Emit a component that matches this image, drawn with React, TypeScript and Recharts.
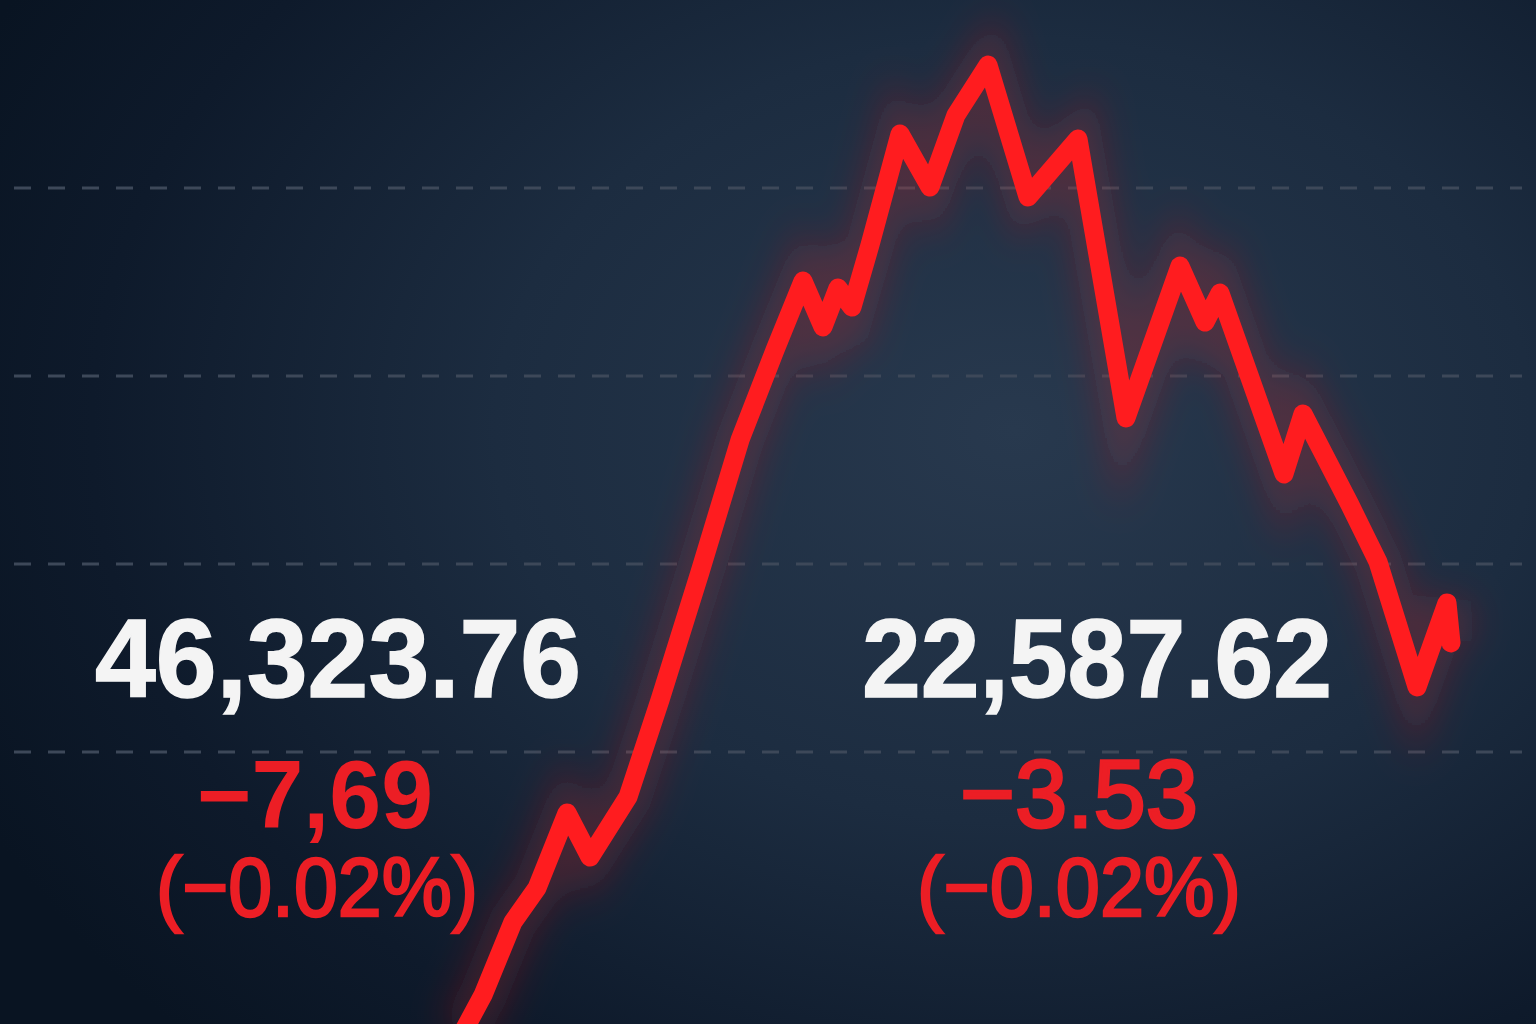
import { LineChart, Line, XAxis, YAxis, ReferenceLine } from "recharts";

// session clock (minutes-ish units) and index level
const times = [
  462, 483, 513, 537, 567, 590, 628, 660, 700, 740, 775, 803, 823, 838, 852, 870, 900,
  930, 956, 988, 1028, 1078, 1126, 1180, 1205, 1220, 1284, 1303, 1350, 1378, 1417, 1447, 1451,
];
const levels = [
  -50, -29.3, 9.6, 27.7, 67.6, 44.1, 76.1, 127.7, 195.7, 266, 313.8, 350.5, 326.1, 346.8,
  336.7, 369.7, 428.7, 400.5, 438.8, 465.4, 395.2, 426.1, 277.7, 358.5, 328.7, 344.1, 247.9,
  279.8, 231.4, 201.1, 134.6, 179.3, 158,
];
const gridTicks = [100, 200, 300, 400];

const quotes = [
  { price: "46,323.76", change: "\u22127,69", pct: "(\u22120.02%)" },
  { price: "22,587.62", change: "\u22123.53", pct: "(\u22120.02%)" },
];

const data = times.map((t, i) => ({ t, v: levels[i] }));

const W = 1536;
const H = 1024;
const FONT = '"Liberation Sans", Arial, Helvetica, sans-serif';
const RED_TXT = "#ec1e25";

export default function App() {
  const [left, right] = quotes;
  return (
    <div
      style={{
        position: "absolute",
        top: 0,
        left: 0,
        width: W,
        height: H,
        background:
          "radial-gradient(ellipse 75% 85% at 66% 42%, #28394e 0%, #1c2c40 45%, #0e1a2b 80%, #091422 100%)",
      }}
    >
      <LineChart width={W} height={H} data={data} margin={{ top: 0, right: 14, bottom: 0, left: 14 }}>
        <defs>
          <filter id="glow" x="-20%" y="-20%" width="140%" height="140%">
            <feGaussianBlur stdDeviation="18" />
          </filter>
        </defs>
        <XAxis dataKey="t" type="number" domain={[14, 1522]} hide allowDataOverflow />
        <YAxis type="number" domain={[-44.68, 500]} ticks={gridTicks} hide allowDataOverflow />
        {gridTicks.map((v) => (
          <ReferenceLine key={v} y={v} stroke="#3d4859" strokeWidth={3} strokeDasharray="17 17" />
        ))}
        <Line
          dataKey="v"
          type="linear"
          stroke="#ff2020"
          strokeOpacity={0.2}
          strokeWidth={48}
          filter="url(#glow)"
          dot={false}
          activeDot={false}
          isAnimationActive={false}
        />
        <Line
          dataKey="v"
          type="linear"
          stroke="#ff1c1f"
          strokeWidth={19}
          strokeLinejoin="round"
          strokeLinecap="round"
          dot={false}
          activeDot={false}
          isAnimationActive={false}
        />
        <g fontFamily={FONT}>
          <text x={95} y={697} fontSize={111} fontWeight="bold" fill="#f4f4f4" stroke="#f4f4f4" strokeWidth={1.5} textLength={486} lengthAdjust="spacingAndGlyphs">
            {left.price}
          </text>
          <text x={197} y={828} fontSize={96} fontWeight="bold" fill={RED_TXT} textLength={236} lengthAdjust="spacingAndGlyphs">
            {left.change}
          </text>
          <text x={156} y={916} fontSize={84} fill={RED_TXT} stroke={RED_TXT} strokeWidth={2.5} textLength={322} lengthAdjust="spacingAndGlyphs">
            {left.pct}
          </text>
          <text x={862} y={697} fontSize={111} fontWeight="bold" fill="#f4f4f4" stroke="#f4f4f4" strokeWidth={1.5} textLength={470} lengthAdjust="spacingAndGlyphs">
            {right.price}
          </text>
          <text x={960} y={827} fontSize={97} fill={RED_TXT} stroke={RED_TXT} strokeWidth={3} textLength={238} lengthAdjust="spacingAndGlyphs">
            {right.change}
          </text>
          <text x={917} y={916} fontSize={84} fill={RED_TXT} stroke={RED_TXT} strokeWidth={2.5} textLength={324} lengthAdjust="spacingAndGlyphs">
            {right.pct}
          </text>
        </g>
      </LineChart>
    </div>
  );
}
